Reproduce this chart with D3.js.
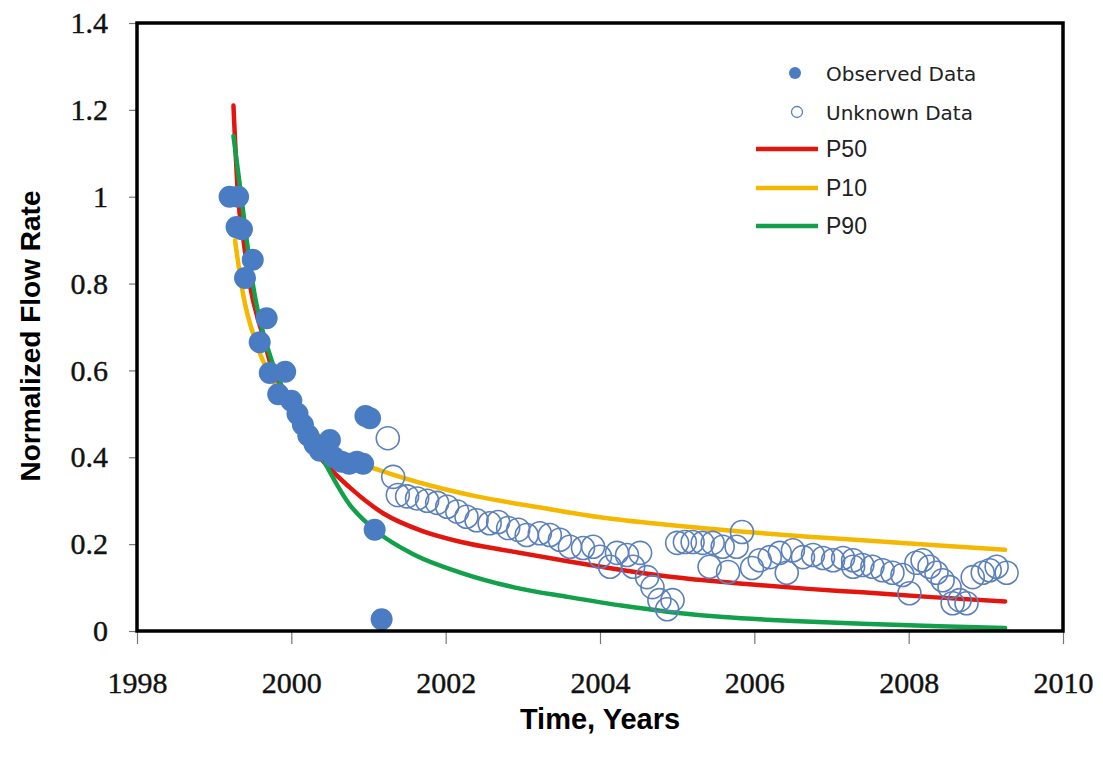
<!DOCTYPE html>
<html>
<head>
<meta charset="utf-8">
<script src="https://cdn.jsdelivr.net/npm/d3@7"></script>
<style>
  body { margin: 0; background: #fff; }
  #svgRoot { width: 1103px; height: 761px; display: block; }
</style>
</head>
<body>
<svg id="svgRoot" width="1103" height="761"></svg>
<script>
// values
const yearTicks = [1998, 2000, 2002, 2004, 2006, 2008, 2010]
const rateTicks = [0, 0.2, 0.4, 0.6, 0.8, 1, 1.2, 1.4]

const observedYears = [1999.20, 1999.31, 1999.29, 1999.36, 1999.50, 1999.40, 1999.68, 1999.59, 1999.72, 1999.92, 1999.83,
  2000.00, 2000.08, 2000.15, 2000.22, 2000.30, 2000.37, 2000.50, 2000.55, 2000.65, 2000.75, 2000.85, 2000.93,
  2000.96, 2001.02, 2001.08, 2001.17]
const observedRates = [1.00, 1.00, 0.93, 0.925, 0.855, 0.813, 0.72, 0.665, 0.594, 0.597, 0.545,
  0.53, 0.50, 0.475, 0.45, 0.43, 0.415, 0.44, 0.40, 0.39, 0.385, 0.39, 0.385,
  0.495, 0.49, 0.233, 0.027]

const unknownYears = [2001.25, 2001.32, 2001.38, 2001.50, 2001.63, 2001.76, 2001.89, 2002.02, 2002.15, 2002.27, 2002.40,
  2002.57, 2002.68, 2002.81, 2002.94, 2003.05, 2003.22, 2003.35, 2003.48, 2003.61, 2003.78, 2003.91,
  2004.00, 2004.13, 2004.22, 2004.35, 2004.43, 2004.52, 2004.61, 2004.68, 2004.77, 2004.87, 2004.94,
  2005.00, 2005.10, 2005.20, 2005.33, 2005.46, 2005.42, 2005.59, 2005.66, 2005.77, 2005.84, 2005.97,
  2006.07, 2006.20, 2006.33, 2006.42, 2006.50, 2006.63, 2006.76, 2006.89, 2007.02, 2007.15, 2007.28,
  2007.28, 2007.40, 2007.53, 2007.66, 2007.79, 2007.92, 2008.01, 2008.10, 2008.18, 2008.27, 2008.36,
  2008.44, 2008.53, 2008.57, 2008.66, 2008.75, 2008.83, 2008.96, 2009.05, 2009.14, 2009.27]
const unknownRates = [0.444, 0.355, 0.313, 0.31, 0.305, 0.30, 0.295, 0.286, 0.275, 0.263, 0.255,
  0.248, 0.251, 0.237, 0.233, 0.221, 0.225, 0.221, 0.21, 0.194, 0.191, 0.194,
  0.171, 0.148, 0.18, 0.175, 0.148, 0.18, 0.124, 0.101, 0.071, 0.05, 0.071,
  0.203, 0.205, 0.205, 0.203, 0.203, 0.148, 0.194, 0.136, 0.194, 0.228, 0.145,
  0.163, 0.17, 0.18, 0.134, 0.186, 0.17, 0.175, 0.168, 0.163, 0.168, 0.163,
  0.148, 0.152, 0.148, 0.14, 0.134, 0.129, 0.087, 0.157, 0.163, 0.148, 0.134,
  0.117, 0.101, 0.064, 0.071, 0.064, 0.124, 0.134, 0.14, 0.148, 0.134]

const p50Years = [1999.25, 1999.31, 1999.38, 1999.46, 1999.63, 1999.81, 2000.0, 2000.28, 2000.76, 2001.2, 2001.7,
  2002.2, 2002.8, 2003.6, 2004.3, 2005.0, 2005.9, 2006.7, 2007.4, 2008.3, 2009.25]
const p50Rates = [1.21, 1.0, 0.9, 0.80, 0.68, 0.57, 0.50, 0.42, 0.33, 0.27, 0.23,
  0.205, 0.185, 0.16, 0.14, 0.123, 0.108, 0.097, 0.089, 0.078, 0.068]

const p10Years = [1999.27, 1999.37, 1999.55, 1999.75, 2000.0, 2000.3, 2000.7, 2001.15, 2001.8, 2002.4, 2003.2,
  2004.0, 2004.9, 2005.9, 2006.7, 2007.4, 2008.3, 2009.25]
const p10Rates = [0.90, 0.78, 0.66, 0.58, 0.52, 0.46, 0.40, 0.37, 0.335, 0.31, 0.285,
  0.262, 0.244, 0.228, 0.217, 0.209, 0.198, 0.187]

const p90Years = [1999.25, 1999.33, 1999.5, 1999.75, 2000.0, 2000.3, 2000.76, 2001.1, 2001.6, 2002.2, 2002.9,
  2003.6, 2004.3, 2004.9, 2005.6, 2006.5, 2007.5, 2008.4, 2009.25]
const p90Rates = [1.14, 1.03, 0.80, 0.62, 0.52, 0.43, 0.29, 0.23, 0.175, 0.134, 0.10,
  0.078, 0.058, 0.044, 0.032, 0.023, 0.016, 0.011, 0.007]

const seriesNames = ["Observed Data", "Unknown Data", "P50", "P10", "P90"]
const lineColors = { P50: "#e2150f", P10: "#f4b800", P90: "#12a04b" }
const dotColor = "#4a7cc3"

let svg = d3.select("#svgRoot")

const margin = { top: 23, left: 137, bottom: 130, right: 40 }
let width = 1103
let height = 761

let scale_x = d3.scaleLinear()
  .domain([1998, 2010])
  .range([margin.left, width - margin.right])

let scale_y = d3.scaleLinear()
  .domain([0, 1.4])
  .range([height - margin.bottom, margin.top])

let g_plot = svg.append("g").attr("class", "g_plot")
let g_xAxis = svg.append("g").attr("class", "g_xAxis")
let g_yAxis = svg.append("g").attr("class", "g_yAxis")

// axes
g_xAxis
  .attr("transform", "translate(0, " + scale_y(0) + ")")
  .call(d3.axisBottom(scale_x).tickValues(yearTicks).tickFormat(d3.format("d")).tickSize(13).tickPadding(28))
g_yAxis
  .attr("transform", "translate(" + scale_x(1998) + ", 0)")
  .call(d3.axisLeft(scale_y).tickValues(rateTicks).tickFormat((d) => String(+d.toFixed(1))).tickSize(8).tickPadding(21))

svg.selectAll(".g_xAxis .domain, .g_yAxis .domain").remove()
svg.selectAll(".g_xAxis line, .g_yAxis line").attr("stroke", "#777").attr("stroke-width", 1.2)
svg.selectAll(".g_xAxis text, .g_yAxis text")
  .attr("font-family", "Liberation Serif, serif")
  .attr("font-size", "30px")
  .attr("fill", "#111")
  .attr("stroke", "#111")
  .attr("stroke-width", 0.4)

// curves
let line = d3.line()
  .x((d) => scale_x(d[0]))
  .y((d) => scale_y(d[1]))
  .curve(d3.curveMonotoneX)

let curves = [
  { name: "P50", pts: d3.zip(p50Years, p50Rates) },
  { name: "P10", pts: d3.zip(p10Years, p10Rates) },
  { name: "P90", pts: d3.zip(p90Years, p90Rates) },
]

g_plot.selectAll(".curve").data(curves)
  .enter()
  .append("path")
  .attr("class", "curve")
  .attr("d", (d) => line(d.pts))
  .attr("fill", "none")
  .attr("stroke", (d) => lineColors[d.name])
  .attr("stroke-width", 4.5)
  .attr("stroke-linecap", "round")

// unknown data (hollow)
g_plot.selectAll(".unknown").data(d3.zip(unknownYears, unknownRates))
  .enter()
  .append("circle")
  .attr("class", "unknown")
  .attr("cx", (d) => scale_x(d[0]))
  .attr("cy", (d) => scale_y(d[1]))
  .attr("r", 11.5)
  .attr("fill", "none")
  .attr("stroke", "#5b80bb")
  .attr("stroke-width", 1.6)

// observed data (filled)
g_plot.selectAll(".observed").data(d3.zip(observedYears, observedRates))
  .enter()
  .append("circle")
  .attr("class", "observed")
  .attr("cx", (d) => scale_x(d[0]))
  .attr("cy", (d) => scale_y(d[1]))
  .attr("r", 11)
  .attr("fill", dotColor)

// frame
svg.append("rect")
  .attr("x", scale_x(1998))
  .attr("y", scale_y(1.4))
  .attr("width", scale_x(2010) - scale_x(1998))
  .attr("height", scale_y(0) - scale_y(1.4))
  .attr("fill", "none")
  .attr("stroke", "#000")
  .attr("stroke-width", 3.5)

// legend
let g_legend = svg.append("g").attr("class", "g_legend")
let legendY = [73, 112, 149, 188, 226]
seriesNames.forEach((name, i) => {
  let y = legendY[i]
  if (i == 0) {
    g_legend.append("circle").attr("cx", 795).attr("cy", y).attr("r", 6).attr("fill", dotColor)
  } else if (i == 1) {
    g_legend.append("circle").attr("cx", 797).attr("cy", y).attr("r", 5.5)
      .attr("fill", "none").attr("stroke", "#5b80bb").attr("stroke-width", 1.3)
  } else {
    g_legend.append("line").attr("x1", 756).attr("x2", 818).attr("y1", y).attr("y2", y)
      .attr("stroke", lineColors[name]).attr("stroke-width", 4.5)
  }
  g_legend.append("text")
    .attr("x", 826)
    .attr("y", y + 8)
    .text(name)
    .attr("font-family", i < 2 ? "DejaVu Sans, sans-serif" : "Liberation Sans, sans-serif")
    .attr("font-size", i < 2 ? "20px" : "23px")
    .attr("fill", "#222")
})

// axis titles
svg.append("text")
  .attr("transform", "translate(40, 336) rotate(-90)")
  .attr("text-anchor", "middle")
  .attr("font-family", "Liberation Sans, Arial, sans-serif")
  .attr("font-weight", "bold")
  .attr("font-size", "28px")
  .text("Normalized Flow Rate")

svg.append("text")
  .attr("x", (scale_x(1998) + scale_x(2010)) / 2)
  .attr("y", 729)
  .attr("text-anchor", "middle")
  .attr("font-family", "Liberation Sans, Arial, sans-serif")
  .attr("font-weight", "bold")
  .attr("font-size", "29px")
  .text("Time, Years")
</script>
</body>
</html>
